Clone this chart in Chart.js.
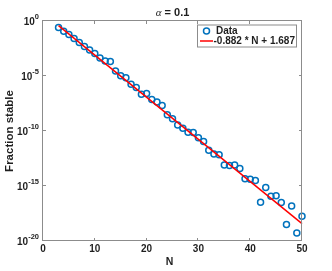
<!DOCTYPE html>
<html>
<head>
<meta charset="utf-8">
<script src="https://cdn.jsdelivr.net/npm/chart.js@4.4.1/dist/chart.umd.min.js"></script>
<style>
html,body{margin:0;padding:0;background:#fff;}
#wrap{width:332px;height:271px;position:relative;}
</style>
</head>
<body>
<div id="wrap"><canvas id="c" width="332" height="271"></canvas></div>
<script>
// ---- data ----
const nValues = [3,4,5,6,7,8,9,10,11,12,13,14,15,16,17,18,19,20,21,22,23,24,25,26,27,28,29,30,31,32,33,34,35,36,37,38,39,40,41,42,43,44,45,46,47,48,49,50];
const fractionStable = [2.6e-1,1.2e-1,5.8e-2,2.6e-2,1.1e-2,4.9e-3,2.3e-3,1.1e-3,4.3e-4,2.3e-4,2.1e-4,2.8e-5,1.05e-5,6.9e-6,1.8e-6,9.1e-7,2.2e-7,2.6e-7,7.4e-8,4.3e-8,2.1e-8,3.0e-9,1.3e-9,3.6e-10,1.8e-10,7.8e-11,7.2e-11,2.4e-11,1.1e-11,1.8e-12,8.3e-13,6.8e-13,8.3e-14,7.2e-14,8.3e-14,3.9e-14,4.5e-15,4.1e-15,3.1e-15,3.3e-17,7.2e-16,1.2e-16,1.3e-16,3.1e-17,3.1e-19,1.5e-17,5.4e-20,1.8e-18];
const fitN = [3, 50];
const fitY = [3.83e-1, 3.8e-19];
const xTicks = [0,10,20,30,40,50];
const yTicks = [1e0,1e-5,1e-10,1e-15,1e-20];
const yTickExp = ['0','-5','-10','-15','-20'];
const titleSymbol = 'α';
const titleRest = ' = 0.1';
const xLabel = 'N';
const yLabel = 'Fraction stable';
const legendLabels = ['Data', '-0.882 * N + 1.687'];

const BLUE = '#0072BD', RED = '#FF0000', AXIS = '#8c8c8c', TXT = '#1f1f1f';
const SANS = '"Liberation Sans", Arial, Helvetica, sans-serif';

const decor = {
  id: 'decor',
  afterDraw(chart) {
    const ctx = chart.ctx, a = chart.chartArea;
    const xs = chart.scales.x, ys = chart.scales.y;
    ctx.save();
    // box
    ctx.strokeStyle = AXIS; ctx.lineWidth = 1;
    ctx.strokeRect(Math.round(a.left) - 0.5, Math.round(a.top) - 0.5, Math.round(a.right - a.left), Math.round(a.bottom - a.top));
    const tl = 3;
    ctx.beginPath();
    xTicks.forEach(v => {
      const px = Math.round(xs.getPixelForValue(v)) - 0.5;
      ctx.moveTo(px, a.bottom); ctx.lineTo(px, a.bottom - tl);
      ctx.moveTo(px, a.top); ctx.lineTo(px, a.top + tl);
    });
    yTicks.forEach(v => {
      const py = Math.round(ys.getPixelForValue(v)) - 0.5;
      ctx.moveTo(a.left, py); ctx.lineTo(a.left + tl, py);
      ctx.moveTo(a.right, py); ctx.lineTo(a.right - tl, py);
    });
    ctx.stroke();
    // x tick labels
    ctx.fillStyle = TXT;
    ctx.font = 'bold 10px ' + SANS;
    ctx.textAlign = 'center'; ctx.textBaseline = 'alphabetic';
    xTicks.forEach(v => ctx.fillText(String(v), xs.getPixelForValue(v), a.bottom + 11));
    // y tick labels with superscript
    yTicks.forEach((v, i) => {
      const py = ys.getPixelForValue(v);
      const right = a.left - 4;
      ctx.font = 'bold 7.5px ' + SANS;
      const sw = ctx.measureText(yTickExp[i]).width;
      ctx.textAlign = 'right';
      ctx.fillText(yTickExp[i], right, py - 2);
      ctx.font = 'bold 10px ' + SANS;
      ctx.fillText('10', right - sw, py + 3.8);
    });
    // axis labels
    ctx.font = 'bold 10.5px ' + SANS;
    ctx.textAlign = 'center';
    ctx.fillText(xLabel, 169.5, 264.5);
    ctx.save();
    ctx.translate(13, (a.top + a.bottom) / 2);
    ctx.rotate(-Math.PI / 2);
    ctx.font = 'bold 11.5px ' + SANS;
    ctx.fillText(yLabel, 0, 0);
    ctx.restore();
    // title
    ctx.font = 'italic 11px "Liberation Serif", "Times New Roman", serif';
    const w1 = ctx.measureText(titleSymbol).width;
    ctx.font = 'bold 11px ' + SANS;
    const w2 = ctx.measureText(titleRest).width;
    const tx = (a.left + a.right) / 2 - (w1 + w2) / 2;
    ctx.textAlign = 'left';
    ctx.font = 'italic 11px "Liberation Serif", "Times New Roman", serif';
    ctx.fillText(titleSymbol, tx, 16);
    ctx.font = 'bold 11px ' + SANS;
    ctx.fillText(titleRest, tx + w1, 16);
    // legend
    const lx = 197, ly = 24.5, lw = 99, lh = 22;
    ctx.fillStyle = '#fff';
    ctx.fillRect(lx, ly, lw, lh);
    ctx.strokeStyle = AXIS; ctx.lineWidth = 1;
    ctx.strokeRect(lx + 0.5, ly + 0.5, lw, lh);
    ctx.strokeStyle = BLUE; ctx.lineWidth = 1.5;
    ctx.beginPath(); ctx.arc(206.5, 31, 3, 0, Math.PI * 2); ctx.stroke();
    ctx.strokeStyle = RED; ctx.lineWidth = 1.5;
    ctx.beginPath(); ctx.moveTo(200, 41); ctx.lineTo(213, 41); ctx.stroke();
    ctx.fillStyle = TXT;
    ctx.font = 'bold 10px ' + SANS;
    ctx.textAlign = 'left'; ctx.textBaseline = 'middle';
    ctx.fillText(legendLabels[0], 216, 31);
    ctx.fillText(legendLabels[1], 213.5, 41);
    ctx.restore();
  }
};

new Chart(document.getElementById('c'), {
  type: 'scatter',
  data: {
    datasets: [
      {
        type: 'line',
        label: legendLabels[1],
        data: fitN.map((n, i) => ({x: n, y: fitY[i]})),
        borderColor: RED, borderWidth: 1.5, pointRadius: 0, fill: false,
        order: 0, clip: false
      },
      {
        label: legendLabels[0],
        data: nValues.map((n, i) => ({x: n, y: fractionStable[i]})),
        borderColor: BLUE, backgroundColor: 'rgba(0,0,0,0)',
        pointRadius: 3, borderWidth: 1.5, pointHoverRadius: 3,
        order: 1, clip: false
      }
    ]
  },
  options: {
    responsive: false, animation: false, devicePixelRatio: 1,
    layout: { padding: { left: 43, right: 30, top: 21, bottom: 30 } },
    plugins: { legend: { display: false }, tooltip: { enabled: false }, title: { display: false } },
    scales: {
      x: { type: 'linear', min: 0, max: 50, display: false },
      y: { type: 'logarithmic', min: 1e-20, max: 1, display: false }
    }
  },
  plugins: [decor]
});
</script>
</body>
</html>
